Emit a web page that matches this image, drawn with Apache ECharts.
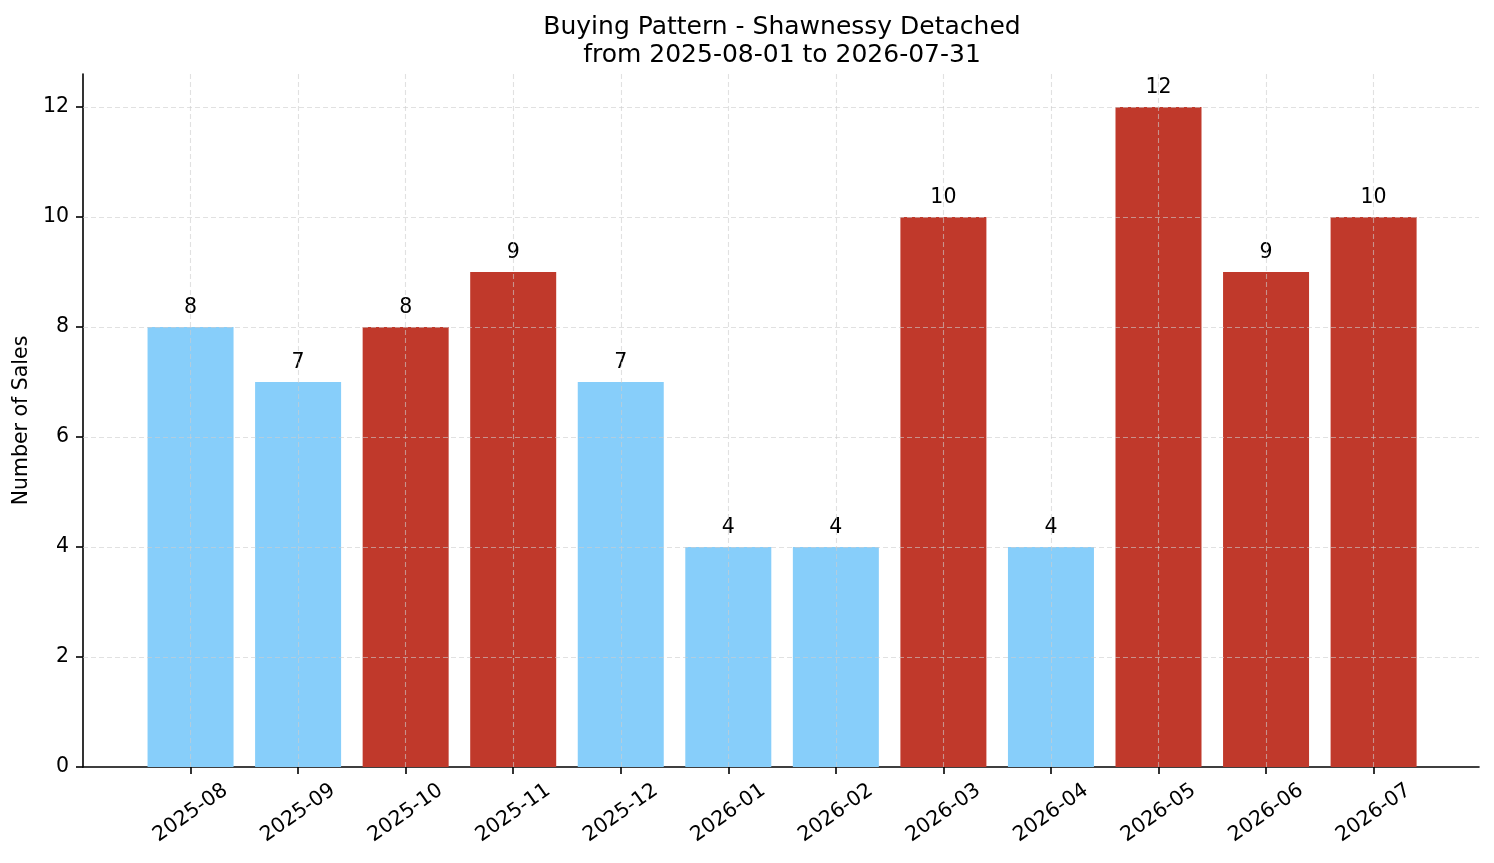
<!DOCTYPE html>
<html>
<head>
<meta charset="utf-8">
<script src="https://cdn.jsdelivr.net/npm/echarts@6/dist/echarts.min.js"></script>
<style>
  html, body { margin: 0; padding: 0; background: #fff; }
  #chart { width: 1494px; height: 863px; }
</style>
</head>
<body>
<div id="chart"></div>
<script>
var months = ['2025-08', '2025-09', '2025-10', '2025-11', '2025-12', '2026-01',
              '2026-02', '2026-03', '2026-04', '2026-05', '2026-06', '2026-07'];
var sales = [8, 7, 8, 9, 7, 4, 4, 10, 4, 12, 9, 10];
// 1 = red bar, 0 = light blue bar
var highlight = [0, 0, 1, 1, 0, 0, 0, 1, 0, 1, 1, 1];
var yTicks = [0, 2, 4, 6, 8, 10, 12];

var font = 'DejaVu Sans';
var idx = months.map(function (m, i) { return i; });

var barData = sales.map(function (v, i) {
    return {
        value: [i, v],
        itemStyle: { color: highlight[i] ? '#C0392B' : '#87CEFA' }
    };
});

var gridLines = [];
idx.forEach(function (i) { gridLines.push({ xAxis: i }); });
yTicks.forEach(function (t) { if (t > 0) gridLines.push({ yAxis: t }); });

var option = {
    animation: false,
    title: {
        text: 'Buying Pattern - Shawnessy Detached\nfrom 2025-08-01 to 2026-07-31',
        left: 777,
        top: 8,
        textAlign: 'center',
        textStyle: {
            fontFamily: font,
            fontSize: 25,
            fontWeight: 'normal',
            lineHeight: 28,
            color: '#000'
        }
    },
    grid: { left: 83, right: 15, top: 74, bottom: 96 },
    xAxis: {
        type: 'value',
        min: -1.0,
        max: 11.98,
        axisLine: { show: true, onZero: false, lineStyle: { color: '#000', width: 1.6 } },
        axisTick: { show: true, length: 7, customValues: idx, lineStyle: { color: '#000', width: 1.6 } },
        axisLabel: {
            customValues: idx,
            rotate: 35,
            align: 'center',
            verticalAlign: 'middle',
            margin: 46,
            fontFamily: font,
            fontSize: 20.5,
            color: '#000',
            formatter: function (v) { return months[Math.round(v)]; }
        },
        splitLine: { show: false }
    },
    yAxis: {
        type: 'value',
        min: 0,
        max: 12.6,
        name: 'Number of Sales',
        nameLocation: 'middle',
        nameGap: 48,
        nameTextStyle: { fontFamily: font, fontSize: 20.5, color: '#000' },
        axisLine: { show: true, onZero: false, lineStyle: { color: '#000', width: 1.6 } },
        axisTick: { show: true, length: 7, customValues: yTicks, lineStyle: { color: '#000', width: 1.6 } },
        axisLabel: {
            customValues: yTicks,
            margin: 14,
            fontFamily: font,
            fontSize: 20.5,
            color: '#000'
        },
        splitLine: { show: false }
    },
    series: [
        {
            type: 'bar',
            data: barData,
            barWidth: 86,
            label: {
                show: true,
                position: 'top',
                distance: 9,
                fontFamily: font,
                fontSize: 20.5,
                color: '#000',
                formatter: function (p) { return p.value[1]; }
            },
            markLine: {
                silent: true,
                symbol: 'none',
                z: 10,
                label: { show: false },
                lineStyle: { color: 'rgba(205,205,205,0.6)', type: [5, 3], width: 1.1 },
                data: gridLines
            }
        }
    ]
};

var chart = echarts.init(document.getElementById('chart'));
chart.setOption(option);
</script>
</body>
</html>
